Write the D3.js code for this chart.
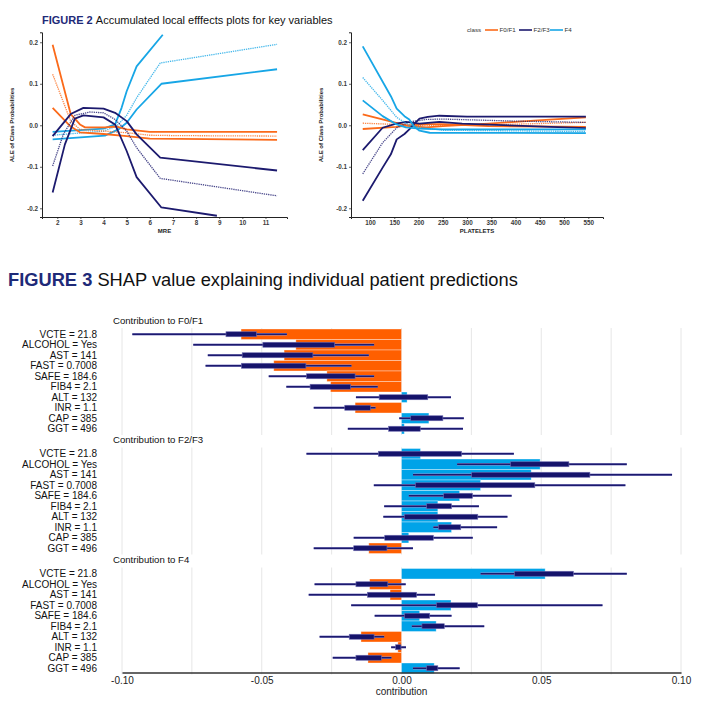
<!DOCTYPE html>
<html><head>
<meta charset="utf-8">
<script src="https://cdn.jsdelivr.net/npm/d3@7/dist/d3.min.js"></script>
<style>
body{margin:0;background:#fff;}
svg{font-family:"Liberation Sans",Arial,sans-serif;}
</style>
</head><body>
<svg id="fig" width="716" height="704"></svg>
<script>
// ---- Figure 2 data : ALE curves, [x, ALE] ----
var mreF01A = [[1.8,0.194],[2.58,0.027],[2.98,0.002],[3.2,-0.005],[4.06,-0.005],[4.57,-0.003],[5,-0.01],[6,-0.016],[7.3,-0.016],[11.5,-0.016]];
var mreF01M = [[1.8,0.123],[2.58,0.01],[2.98,-0.01],[4,-0.014],[5,-0.018],[6,-0.024],[7.3,-0.025],[11.5,-0.026]];
var mreF01B = [[1.8,0.042],[2.58,-0.003],[2.98,-0.017],[4,-0.021],[5,-0.026],[6,-0.032],[7.3,-0.033],[11.5,-0.035]];
var mreF23A = [[1.8,-0.026],[2.58,0.027],[3.13,0.042],[4,0.04],[4.5,0.03],[5,0.01],[5.43,-0.022],[6.45,-0.078],[11.5,-0.109]];
var mreF23M = [[1.8,-0.098],[2.26,-0.022],[2.76,0.024],[3.41,0.032],[4,0.03],[4.5,0.014],[5,-0.014],[5.43,-0.054],[6.45,-0.128],[11.5,-0.17]];
var mreF23B = [[1.8,-0.162],[2.33,-0.046],[2.76,0.016],[3.13,0.024],[4,0.019],[4.5,0.002],[5,-0.062],[5.43,-0.125],[6.5,-0.198],[8.9,-0.218]];
var mreF4A = [[1.8,-0.016],[4,-0.008],[4.5,0.002],[4.78,0.042],[5,0.082],[5.43,0.142],[6.56,0.218]];
var mreF4M = [[1.8,-0.024],[4,-0.014],[4.57,-0.002],[5,0.024],[5.43,0.066],[6.45,0.15],[11.5,0.195]];
var mreF4B = [[1.8,-0.034],[4.06,-0.025],[4.64,-0.01],[5,0.006],[5.43,0.038],[6.5,0.1],[11.5,0.135]];

var pltF01A = [[85,0.026],[154,0.006],[181,-0.002],[216,-0.005],[250,-0.002],[344,0.004],[446,0.012],[545,0.019]];
var pltF01M = [[85,0.005],[154,0.002],[216,-0.001],[344,0.001],[545,0.007]];
var pltF01B = [[85,-0.009],[154,-0.004],[181,0],[216,0.003],[250,0.003],[344,-0.002],[545,-0.004]];
var pltF23A = [[85,-0.182],[126,-0.102],[143,-0.07],[155,-0.034],[171,-0.021],[181,-0.01],[190,0.002],[202,0.016],[219,0.02],[243,0.023],[300,0.021],[545,0.021]];
var pltF23M = [[85,-0.117],[126,-0.042],[155,-0.006],[181,0.008],[216,0.014],[250,0.015],[400,0.01],[545,0.007]];
var pltF23B = [[85,-0.06],[126,-0.006],[154,0.004],[174,0.008],[202,0.004],[243,0.008],[290,0.004],[400,-0.001],[545,-0.007]];
var pltF4A = [[85,0.19],[143,0.07],[155,0.04],[171,0.022],[181,0.014],[190,-0.002],[202,-0.013],[223,-0.018],[545,-0.019]];
var pltF4M = [[85,0.115],[126,0.06],[155,0.019],[181,0],[209,-0.006],[250,-0.012],[545,-0.015]];
var pltF4B = [[85,0.06],[126,0.022],[155,0.002],[174,-0.005],[202,-0.008],[250,-0.01],[545,-0.01]];

var aleYTicks = [-0.2,-0.1,0,0.1,0.2];
var mreTicks = [2,3,4,5,6,7,8,9,10,11];
var pltTicks = [100,150,200,250,300,350,400,450,500,550];
var classes = ["F0/F1","F2/F3","F4"];

// ---- Figure 3 data : SHAP contributions ----
var features = ["VCTE = 21.8","ALCOHOL = Yes","AST = 141","FAST = 0.7008","SAFE = 184.6","FIB4 = 2.1","ALT = 132","INR = 1.1","CAP = 385","GGT = 496"];
var shapF01 = [-0.0574,-0.0378,-0.042,-0.0457,-0.0267,-0.0254,0.002,-0.0166,0.0098,0.001];
var shapF23 = [0.0068,0.0496,0.0464,0.0283,0.0208,0.013,0.013,0.0179,0.0026,-0.0117];
var shapF4  = [0.0514,-0.0114,-0.0041,0.0177,0.0065,0.0124,-0.0145,-0.0013,-0.012,0.0117];
// [min, q1, q3, max] over orderings
var boxF01 = [[-0.0963,-0.0628,-0.0519,-0.041],[-0.0745,-0.0496,-0.0239,-0.0098],[-0.0693,-0.057,-0.0317,-0.0117],[-0.0701,-0.0573,-0.0342,-0.0179],[-0.0475,-0.034,-0.0166,-0.0098],[-0.0412,-0.0327,-0.0182,-0.0085],[-0.0163,-0.008,0.0094,0.0177],[-0.0314,-0.0203,-0.0111,-0.0093],[-0.0008,0.0033,0.0148,0.0223],[-0.0192,-0.0046,0.0067,0.022]];
var boxF23 = [[-0.034,-0.0083,0.0215,0.0402],[0.0199,0.039,0.0599,0.0806],[0.0041,0.0251,0.0674,0.0968],[-0.0099,0.005,0.0477,0.0801],[0.0026,0.0151,0.0254,0.0394],[-0.0062,0.009,0.0179,0.0277],[-0.0065,0.001,0.0273,0.0379],[0.0114,0.0132,0.0212,0.0342],[-0.0171,-0.006,0.0114,0.0255],[-0.0314,-0.0171,-0.0052,0.0041]];
var boxF4 = [[0.0283,0.0404,0.0615,0.0806],[-0.0311,-0.0163,-0.0049,0.0015],[-0.0332,-0.0122,0.0054,0.012],[-0.018,0.0125,0.0272,0.0719],[-0.0096,0.0011,0.0101,0.0179],[0.0037,0.0073,0.0153,0.0296],[-0.0293,-0.0187,-0.0098,-0.0062],[-0.0037,-0.0021,-0.0002,0.0016],[-0.0246,-0.0163,-0.0072,-0.0036],[0.0041,0.009,0.013,0.0208]];
var shapTicks = [-0.10,-0.05,0,0.05,0.10];
var gridVals = [-0.1,-0.075,-0.05,-0.025,0,0.025,0.05,0.075,0.1];

var colOrange = "#fb6a1a", colNavy = "#1c1a6e", colBlue = "#17a6e6";
var svg = d3.select("#fig");

// ================= FIGURE 2 =================
var t2 = svg.append("text").attr("x",42).attr("y",24).attr("font-size",11);
t2.append("tspan").attr("font-weight","bold").attr("fill","#1e2a78").text("FIGURE 2 ");
t2.append("tspan").attr("fill","#111").text("Accumulated local efffects plots for key variables");

function alePanel(xDom, xRng, xTicks, xLab, sets){
  var x = d3.scaleLinear().domain(xDom).range(xRng);
  var y = d3.scaleLinear().domain([-0.221,0.224]).range([217,32.3]);
  var g = svg.append("g");
  var ya = g.append("g").attr("transform","translate("+xRng[0]+",0)")
    .call(d3.axisLeft(y).tickValues(aleYTicks).tickSize(2).tickPadding(2).tickFormat(function(d){return d.toFixed(1);}));
  var xa = g.append("g").attr("transform","translate(0,217)")
    .call(d3.axisBottom(x).tickValues(xTicks).tickSize(2).tickPadding(1.5));
  [ya,xa].forEach(function(a){
    a.select(".domain").attr("stroke","#222").attr("stroke-width",1);
    a.selectAll(".tick line").attr("stroke","#222").attr("stroke-width",0.7);
    a.selectAll("text").attr("font-size",6.3).attr("font-weight","bold").attr("fill","#3a3a3a").attr("font-family","Liberation Sans, Arial");
  });
  g.append("text").attr("x",(xRng[0]+xRng[1])/2).attr("y",233).attr("text-anchor","middle")
    .attr("font-size",6).attr("font-weight","bold").attr("fill","#222").text(xLab);
  g.append("text").attr("transform","translate("+(xRng[0]-28.5)+",125) rotate(-90)").attr("text-anchor","middle")
    .attr("font-size",6).attr("font-weight","bold").attr("fill","#222").text("ALE of Class Probabilities");
  var line = d3.line().x(function(d){return x(d[0]);}).y(function(d){return y(d[1]);});
  sets.forEach(function(s){
    g.append("path").datum(s.d).attr("d",line).attr("fill","none").attr("stroke",s.c)
      .attr("stroke-width",s.dot?1.3:1.8).attr("stroke-dasharray",s.dot?"1.3,0.9":null)
      .attr("stroke-linejoin","round").attr("opacity",s.dot?0.8:1);
  });
}
alePanel([1.34,11.93],[42,287],mreTicks,"MRE",[
  {d:mreF4A,c:colBlue},{d:mreF4M,c:colBlue,dot:1},{d:mreF4B,c:colBlue},
  {d:mreF01A,c:colOrange},{d:mreF01M,c:colOrange,dot:1},{d:mreF01B,c:colOrange},
  {d:mreF23A,c:colNavy},{d:mreF23M,c:colNavy,dot:1},{d:mreF23B,c:colNavy}
]);
alePanel([60.8,580.3],[351,603],pltTicks,"PLATELETS",[
  {d:pltF01A,c:colOrange},{d:pltF01M,c:colOrange,dot:1},{d:pltF01B,c:colOrange},
  {d:pltF23A,c:colNavy},{d:pltF23M,c:colNavy,dot:1},{d:pltF23B,c:colNavy},
  {d:pltF4A,c:colBlue},{d:pltF4M,c:colBlue,dot:1},{d:pltF4B,c:colBlue}
]);

// legend
var lg = svg.append("g").attr("font-size",6.2).attr("fill","#333");
lg.append("text").attr("x",467).attr("y",32).text("class");
var lx = [485,519,550], lc = [colOrange,colNavy,colBlue];
classes.forEach(function(c,i){
  lg.append("line").attr("x1",lx[i]).attr("x2",lx[i]+13).attr("y1",30).attr("y2",30).attr("stroke",lc[i]).attr("stroke-width",1.6);
  lg.append("text").attr("x",lx[i]+14.5).attr("y",32).text(c);
});

// ================= FIGURE 3 =================
var t3 = svg.append("text").attr("x",8).attr("y",286).attr("font-size",18.3);
t3.append("tspan").attr("font-weight","bold").attr("fill","#1e2a78").text("FIGURE 3 ");
t3.append("tspan").attr("fill","#111").text("SHAP value explaining individual patient predictions");

var xs = d3.scaleLinear().domain([-0.10,0.10]).range([122,681]);
var panelTops = [328,447.5,567.5];
var panelData = [[shapF01,boxF01],[shapF23,boxF23],[shapF4,boxF4]];
var bandH = 10.5;

panelData.forEach(function(pd,pi){
  var top = panelTops[pi];
  var yb = d3.scaleBand().domain(features).range([top+1, top+1+bandH*features.length]);
  var g = svg.append("g");
  g.selectAll(".grid").data(gridVals).enter().append("line")
    .attr("x1",function(d){return xs(d);}).attr("x2",function(d){return xs(d);})
    .attr("y1",top).attr("y2",top+107).attr("stroke","#e6e6e6").attr("stroke-width",1);
  g.append("text").attr("x",113).attr("y",top-4.5).attr("font-size",9.6).attr("fill","#111")
    .text("Contribution to "+classes[pi]);
  g.selectAll(".lab").data(features).enter().append("text")
    .attr("x",97).attr("y",function(d){return yb(d)+yb.bandwidth()/2+3.6;})
    .attr("text-anchor","end").attr("font-size",10).attr("fill","#111").text(function(d){return d;});
  g.selectAll(".bar").data(pd[0]).enter().append("rect")
    .attr("x",function(d){return xs(Math.min(0,d));})
    .attr("width",function(d){return Math.abs(xs(d)-xs(0));})
    .attr("y",function(d,i){return yb(features[i]);}).attr("height",yb.bandwidth())
    .attr("fill",function(d){return d<0?"#ff5f00":"#00a3e8";})
    .attr("stroke","#fff").attr("stroke-opacity",0.45).attr("stroke-width",0.8);
  var bx = g.selectAll(".bx").data(pd[1]).enter().append("g")
    .attr("transform",function(d,i){return "translate(0,"+(yb(features[i])+yb.bandwidth()/2)+")";});
  bx.append("line").attr("x1",function(d){return xs(d[0]);}).attr("x2",function(d){return xs(d[3]);})
    .attr("stroke","#8e8ccb").attr("stroke-width",2.6);
  bx.append("line").attr("x1",function(d){return xs(d[0]);}).attr("x2",function(d){return xs(d[3]);})
    .attr("stroke",colNavy).attr("stroke-width",1.5);
  bx.append("rect").attr("x",function(d){return xs(d[1]);}).attr("width",function(d){return xs(d[2])-xs(d[1]);})
    .attr("y",-2.5).attr("height",5).attr("fill","#15136b").attr("stroke","#6d6bb0").attr("stroke-width",0.6);
});

var xa3 = svg.append("g").attr("transform","translate(0,672.5)")
  .call(d3.axisBottom(xs).tickValues(shapTicks).tickSize(0).tickPadding(4).tickFormat(function(d){return d.toFixed(2);}));
xa3.select(".domain").attr("stroke","#333").attr("stroke-width",1.5);
xa3.selectAll("text").attr("font-size",10).attr("fill","#222").attr("font-family","Liberation Sans, Arial");
svg.append("text").attr("x",xs(0)).attr("y",695).attr("text-anchor","middle").attr("font-size",10)
  .attr("fill","#222").text("contribution");
</script>
</body></html>
